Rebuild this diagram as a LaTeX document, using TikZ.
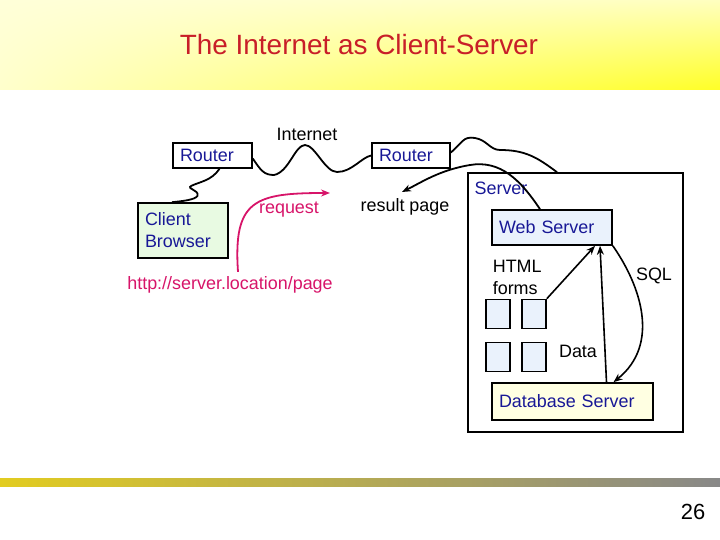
\documentclass[tikz,border=0pt]{standalone}
\usepackage{fontspec}
\setmainfont{Liberation Sans}
\usepackage{xcolor}
\usetikzlibrary{arrows.meta,positioning,shadings}
\definecolor{navy}{RGB}{24,24,150}
\definecolor{titlered}{RGB}{200,30,40}
\definecolor{reqred}{RGB}{215,20,105}
\definecolor{greenfill}{RGB}{232,250,226}
\definecolor{bluefill}{RGB}{234,242,252}
\definecolor{yellowfill}{RGB}{255,255,226}
\definecolor{barleft}{RGB}{226,204,32}
\definecolor{barright}{RGB}{136,136,136}

\begin{document}
\begin{tikzpicture}[x=1bp, y=-1bp, line width=1.6bp,
    every node/.style={font=\fontsize{18}{22}\selectfont, inner sep=0pt},
    box/.style={draw, text=navy, align=left, inner xsep=7bp, inner ysep=0pt},
    form/.style={draw, fill=bluefill, minimum width=24bp, minimum height=29bp},
    wire/.style={line width=1.8bp},
    arr/.style={-{Stealth[length=9bp,width=7bp]}}]

    \useasboundingbox (0,0) rectangle (720,540);
    \shade[upper left=yellow!15, upper right=yellow!25, lower left=yellow!20, lower right=yellow!85] (0,0) rectangle (720,90);
    \shade[left color=barleft, right color=barright] (0,478) rectangle (720,486);

    \node[text=titlered, font=\fontsize{28}{32}\selectfont] (title) at (359,45) {The Internet as Client-Server};
    \node[font=\fontsize{22}{26}\selectfont] (page) at (693,512) {26};

    \node[box, text width=65bp, minimum height=25bp] (rl) at (212.5,155.5) {Router};
    \node[box, text width=64bp, minimum height=25bp] (rr) at (411,155.5) {Router};
    \node[box, fill=greenfill, text width=76bp, minimum height=55bp] (client) at (183,230.5) {Client\\Browser};
    \node (inet) at (307,134) {Internet};
    \node[text=reqred] (req) at (289,210) {request};
    \node (result) at (405,207) {result page};
    \node[text=reqred] (http) at (230,285) {http://server.location/page};

    \node[draw, minimum width=215bp, minimum height=259bp] (server) at (575.5,302.5) {};
    \node[text=navy] (srvlbl) at (501,188) {Server};
    \node[box, fill=bluefill, text width=106bp, minimum height=35bp] (web) at (552,227.5) {Web Server};
    \node[align=left, anchor=west] (forms) at (492,277) {HTML\\forms};
    \node[form] (f1) at (498,314) {};
    \node[form] (f2) at (534,314) {};
    \node[form] (f3) at (498,357) {};
    \node[form] (f4) at (534,357) {};
    \node[box, fill=yellowfill, text width=147bp, minimum height=37bp] (db) at (572.5,401.5) {Database Server};
    \node (sql) at (654,276) {SQL};
    \node (data) at (578,351) {Data};

    \coordinate (reqtip) at (330,193);
    \coordinate (restip) at (402,192);

    \draw[wire] ([xshift=7bp]rl.south) .. controls +(-8,12) and +(8,-4) .. ++(-28,17)
        .. controls +(-6,3) and +(2,-6) .. ++(6,10)
        .. controls +(-2,4) and +(10,-1) .. ([xshift=-11bp]client.north);
    \draw[wire] ([yshift=-3bp]rl.east) .. controls +(8,12) and +(-10,0) .. (274,175)
        .. controls +(15,-3) and +(-10,0) .. (305,145)
        .. controls +(10,0) and +(-12,0) .. (337,172)
        .. controls +(15,0) and +(-10,2) .. (rr.west);
    \draw[wire] ([yshift=3bp]rr.east) .. controls +(12,-10) and +(-12,-2) .. (475,138)
        .. controls +(12,2) and +(-10,0) .. (500,150)
        .. controls +(25,0) and +(-20,-15) .. ([xshift=-18.5bp]server.north);
    \draw[wire, arr] ([xshift=-12bp]web.north) .. controls +(-20,-30) and +(30,-5) .. (470,165)
        .. controls +(-30,5) and +(20,-10) .. (restip);
    \draw[wire, arr, reqred] ([xshift=8bp,yshift=4bp]http.north) .. controls +(-5,-72) and +(-75,0) .. (reqtip);

    \draw[arr] (f2.north east) -- ([xshift=43bp]web.south);
    \draw[arr] ([xshift=34bp]db.north) -- ([xshift=48bp]web.south);
    \draw[arr] (web.south east) .. controls +(28,40) and +(47,-38) .. ([xshift=41bp]db.north);
\end{tikzpicture}
\end{document}
